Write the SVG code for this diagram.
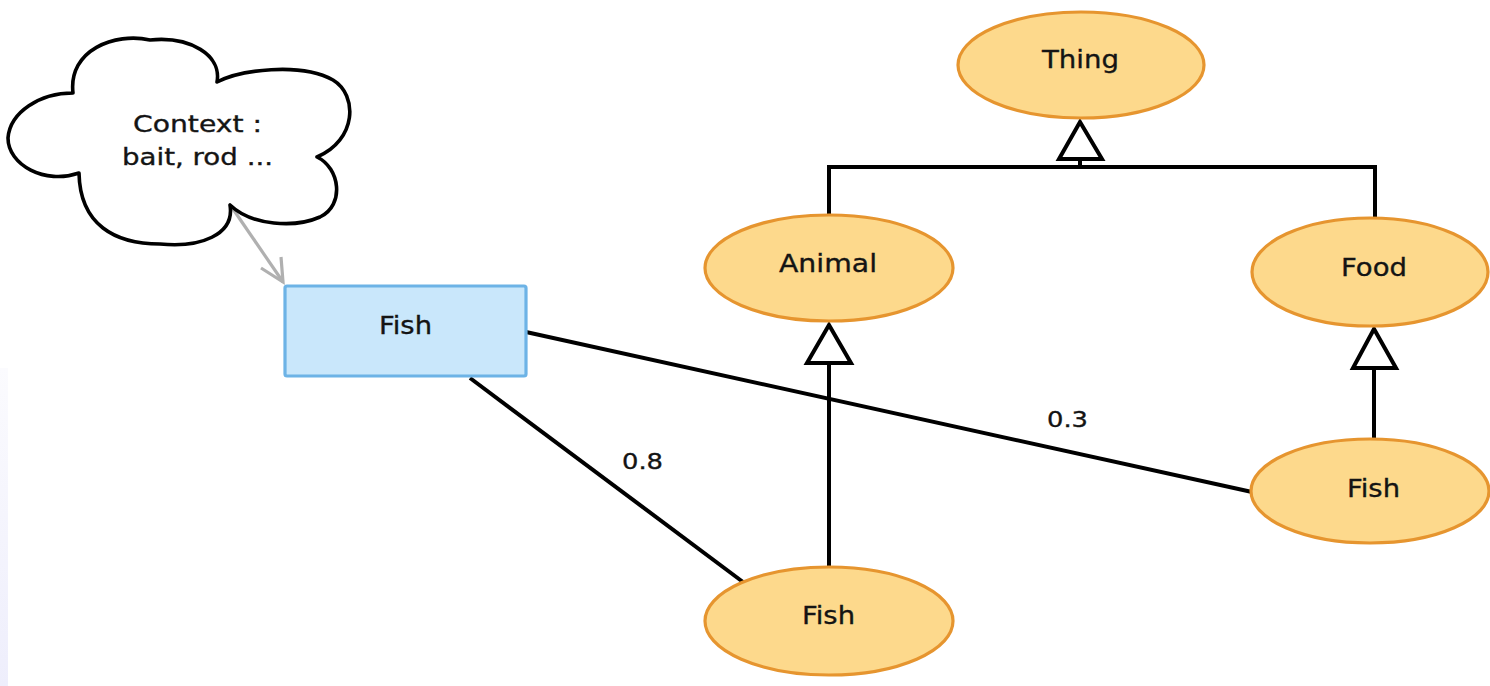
<svg xmlns="http://www.w3.org/2000/svg" width="1490" height="686" viewBox="0 0 1490 686">
  <style>
    .cls { fill: #fdd98c; stroke: #e6952f; stroke-width: 3.2; }
    .term { fill: #c9e7fb; stroke: #6db3e6; stroke-width: 3.2; }
    .lbl { font-family: "DejaVu Sans", "Liberation Sans", sans-serif; fill: #141414; stroke: #141414; stroke-width: 0.35; text-anchor: start; }
    .edge { stroke: #000; stroke-width: 4; fill: none; }
    .tri { fill: #fff; stroke: #000; stroke-width: 4; stroke-linejoin: miter; }
    .ctx { stroke: #b0b0b0; stroke-width: 3.2; fill: none; }
  </style>
  <defs>
    <linearGradient id="edgeShade" x1="0" y1="0" x2="0" y2="1">
      <stop offset="0" stop-color="#fbfbfe"/>
      <stop offset="1" stop-color="#eeeefc"/>
    </linearGradient>
  </defs>

  <rect x="0" y="0" width="1490" height="686" fill="#fff"/>
  <rect x="0" y="368" width="8" height="318" fill="url(#edgeShade)"/>

  <!-- connectors -->
  <g id="connectors">
    <!-- generalisation tree -->
    <polyline class="edge" points="829,215 829,167 1375,167 1375,218"/>
    <line class="edge" x1="1080" y1="159" x2="1080" y2="167"/>
    <polygon class="tri" points="1080,122 1059,159 1102,159"/>
    <line class="edge" x1="829" y1="363" x2="829" y2="567"/>
    <polygon class="tri" points="829,325 807,363 851,363"/>
    <line class="edge" x1="1374" y1="368" x2="1374" y2="439"/>
    <polygon class="tri" points="1374,329 1353,368 1396,368"/>
    <!-- weighted links -->
    <line class="edge" x1="526" y1="332" x2="1252" y2="492"/>
    <line class="edge" x1="470" y1="378" x2="743" y2="582"/>
    <text class="lbl" x="1047" y="427" font-size="22" textLength="41" lengthAdjust="spacingAndGlyphs">0.3</text>
    <text class="lbl" x="622" y="469" font-size="22" textLength="41" lengthAdjust="spacingAndGlyphs">0.8</text>
    <!-- context pointer -->
    <line class="ctx" x1="233" y1="209" x2="283" y2="282"/>
    <polyline class="ctx" points="261,268 283,282 281,257"/>
  </g>

  <g id="context">
    <path d="M 73,93 C 68,50 115,32 150,40 C 190,36 222,55 217,82 C 240,70 300,62 333,80 C 358,95 357,140 317,157 C 340,168 345,205 320,217 C 295,228 252,226 230,205 C 235,235 200,248 160,244 C 115,244 80,225 79,173 C 45,185 8,165 8,138 C 10,112 40,93 73,93 Z" fill="#fff" stroke="#000" stroke-width="3.6" stroke-linejoin="round"/>
    <text class="lbl" x="133" y="132" font-size="23" textLength="129" lengthAdjust="spacingAndGlyphs">Context :</text>
    <text class="lbl" x="122" y="165" font-size="23" textLength="151" lengthAdjust="spacingAndGlyphs">bait, rod ...</text>
  </g>

  <g id="term-fish">
    <rect class="term" x="285" y="286" width="241" height="90" rx="2"/>
    <text class="lbl" x="379" y="334" font-size="25" textLength="53" lengthAdjust="spacingAndGlyphs">Fish</text>
  </g>

  <g id="thing">
    <ellipse class="cls" cx="1081" cy="65" rx="123" ry="53"/>
    <text class="lbl" x="1042" y="68" font-size="25" textLength="77" lengthAdjust="spacingAndGlyphs">Thing</text>
  </g>

  <g id="animal">
    <ellipse class="cls" cx="829" cy="268" rx="124" ry="53"/>
    <text class="lbl" x="779" y="272" font-size="25" textLength="98" lengthAdjust="spacingAndGlyphs">Animal</text>
  </g>

  <g id="food">
    <ellipse class="cls" cx="1370" cy="272" rx="118" ry="54"/>
    <text class="lbl" x="1341" y="276" font-size="25" textLength="66" lengthAdjust="spacingAndGlyphs">Food</text>
  </g>

  <g id="fish-food">
    <ellipse class="cls" cx="1370" cy="491" rx="119" ry="52"/>
    <text class="lbl" x="1347" y="497" font-size="25" textLength="53" lengthAdjust="spacingAndGlyphs">Fish</text>
  </g>

  <g id="fish-animal">
    <ellipse class="cls" cx="829" cy="621" rx="124" ry="54"/>
    <text class="lbl" x="802" y="624" font-size="25" textLength="53" lengthAdjust="spacingAndGlyphs">Fish</text>
  </g>
</svg>
